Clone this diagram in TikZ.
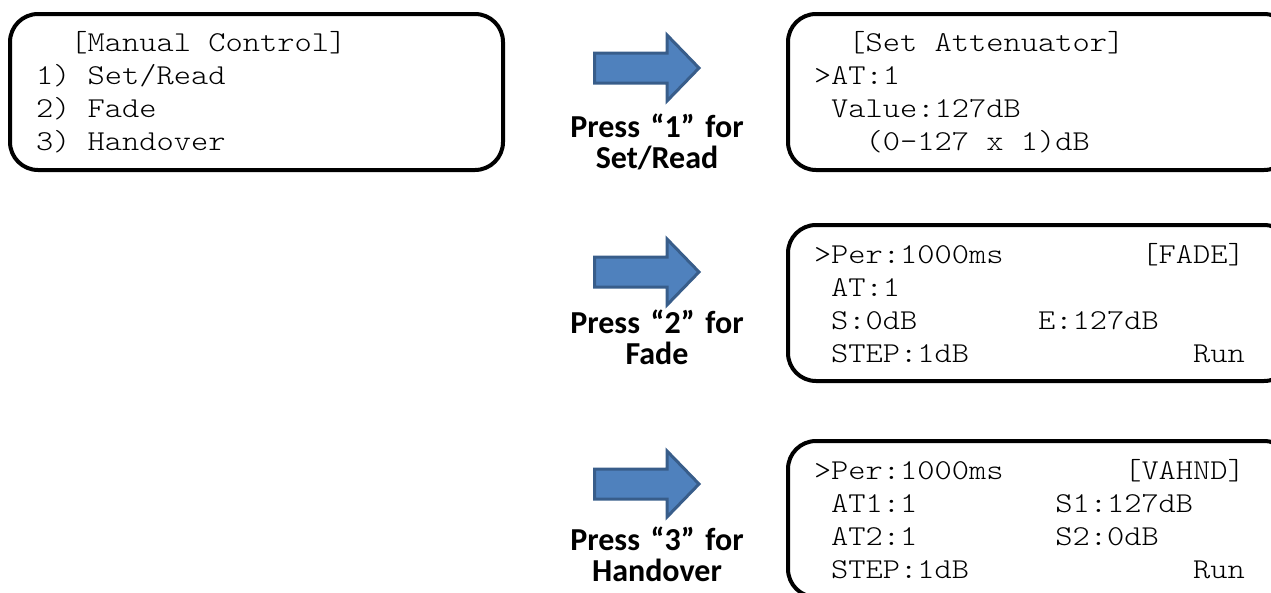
\documentclass[tikz,border=0pt]{standalone}
\usepackage{fontspec}
\setmainfont{Carlito}
\setmonofont{lmmonolt10-regular.otf}[FakeStretch=1.14]
\usetikzlibrary{positioning}

\definecolor{arrowfill}{HTML}{4F81BD}
\definecolor{arrowline}{HTML}{385D8A}

% blank columns on the LCD, one column = one character cell
\newcommand\lcdsp[1]{\hspace*{#1\fontcharwd\font`M}}

\tikzset{
  screen/.style={draw, line width=4pt, rounded corners=28pt, anchor=north west,
    minimum height=156pt, inner xsep=26pt, inner ysep=0pt, align=left,
    font=\ttfamily\fontsize{28.8}{33}\selectfont},
  presslbl/.style={text width=200pt, align=center, anchor=base, inner sep=0pt,
    font=\bfseries\fontsize{32}{31}\selectfont},
  pressarrow/.style={fill=arrowfill, draw=arrowline, line width=3pt}
}

\begin{document}
\begin{tikzpicture}[x=1pt,y=-1pt]
\useasboundingbox (0,0) rectangle (1271,592);

% main menu
\node[screen, text width=441pt] (menu) at (8,12) {%
\lcdsp{2}[Manual\lcdsp{1}Control]\\
1)\lcdsp{1}Set/Read\\
2)\lcdsp{1}Fade\\
3)\lcdsp{1}Handover};

% sub screens
\node[screen, text width=452pt] (setread) at (786,12) {%
\lcdsp{2}[Set\lcdsp{1}Attenuator]\\
>AT:1\\
\lcdsp{1}Value:127dB\\
\lcdsp{3}(0-127\lcdsp{1}x\lcdsp{1}1)dB};
\node[screen, text width=452pt] (fade) at (786,223) {%
>Per:1000ms\lcdsp{8}[FADE]\\
\lcdsp{1}AT:1\\
\lcdsp{1}S:0dB\lcdsp{7}E:127dB\\
\lcdsp{1}STEP:1dB\lcdsp{13}Run};
\node[screen, text width=452pt] (handover) at (786,439) {%
>Per:1000ms\lcdsp{7}[VAHND]\\
\lcdsp{1}AT1:1\lcdsp{8}S1:127dB\\
\lcdsp{1}AT2:1\lcdsp{8}S2:0dB\\
\lcdsp{1}STEP:1dB\lcdsp{13}Run};

% block arrows
\foreach \yc in {68,272,484}
  \draw[pressarrow] (594.5,\yc-15) -- (667,\yc-15) -- (667,\yc-33) -- (699,\yc)
    -- (667,\yc+33) -- (667,\yc+15) -- (594.5,\yc+15) -- cycle;

\node[presslbl] (pressSet) at (657,137) {Press “1” for\\Set/Read};
\node[presslbl] (pressFade) at (657,333) {Press “2” for\\Fade};
\node[presslbl] (pressHnd) at (657,550) {Press “3” for\\Handover};
\end{tikzpicture}
\end{document}
